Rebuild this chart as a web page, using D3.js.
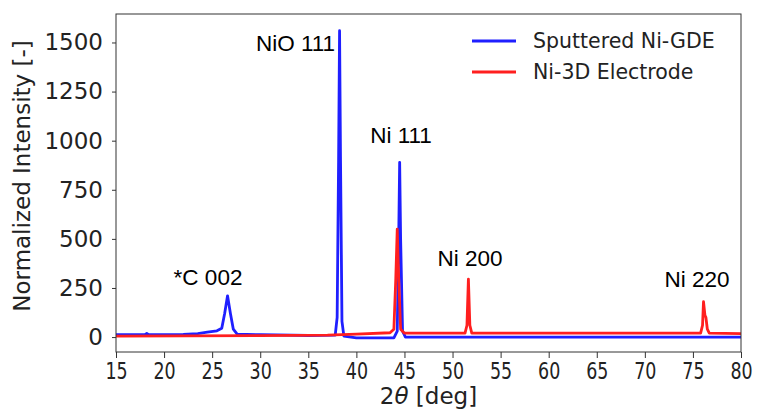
<!DOCTYPE html>
<html lang="en">
<head>
<meta charset="utf-8">
<script src="https://d3js.org/d3.v7.min.js"></script>
<style>
body { margin: 0; background: #fff; }
.tick text { font-family: "DejaVu Sans", sans-serif; fill: #222; }
.peak { font-family: "Liberation Sans", Arial, sans-serif; font-size: 22.5px; fill: #000; }
.lab { font-family: "DejaVu Sans", sans-serif; font-size: 23px; fill: #222; }
.leg { font-family: "DejaVu Sans", sans-serif; font-size: 20.5px; fill: #222; }
</style>
</head>
<body>
<script>
// hand-read points, [2theta, intensity]
var gdeX = [15, 18.0, 18.2, 18.4, 22, 23.5, 24.5, 25.5, 26.0, 26.3, 26.6, 26.9, 27.2, 27.6, 30, 35, 37.8, 38.0, 38.15, 38.25, 38.35, 38.5, 38.7, 40, 43.9, 44.25, 44.4, 44.5, 44.6, 44.8, 45.1, 50, 80];
var gdeY = [12, 12, 18, 12, 13, 18, 25, 32, 45, 120, 210, 120, 40, 15, 12, 8, 10, 100, 900, 1560, 900, 80, 5, -4, -4, 30, 500, 890, 500, 30, 0, 0, 0];

var ni3dX = [15, 30, 37, 40, 43.5, 43.9, 44.1, 44.25, 44.4, 44.6, 45, 51.3, 51.5, 51.65, 51.8, 52.0, 75.8, 76.0, 76.1, 76.25, 76.35, 76.5, 76.7, 80];
var ni3dY = [5, 7, 10, 15, 22, 40, 300, 550, 300, 40, 20, 20, 60, 295, 60, 20, 20, 60, 180, 110, 100, 40, 20, 18];

var xTicks = [15, 20, 25, 30, 35, 40, 45, 50, 55, 60, 65, 70, 75, 80];
var yTicks = [0, 250, 500, 750, 1000, 1250, 1500];

var peakNames = ["NiO 111", "Ni 111", "*C 002", "Ni 200", "Ni 220"];
var peakAtX = [33.67, 44.64, 24.57, 51.82, 75.43];
var peakAtY = [1456, 988, 265, 362, 255];

var seriesNames = ["Sputtered Ni-GDE", "Ni-3D Electrode"];
var seriesColors = ["#1f1fff", "#ff1f1f"];

var width = 757, height = 417;
var margin = {left: 116, right: 16, top: 14, bottom: 65};

var svg = d3.select("body").append("svg")
  .attr("width", width).attr("height", height);

var x = d3.scaleLinear().domain([15, 80]).range([margin.left, width - margin.right]);
var y = d3.scaleLinear().domain([-76, 1645]).range([height - margin.bottom, margin.top]);

var line = d3.line().x(function(d) { return x(d[0]); }).y(function(d) { return y(d[1]); });

var series = [d3.zip(gdeX, gdeY), d3.zip(ni3dX, ni3dY)];

svg.append("defs").append("clipPath").attr("id", "clip")
  .append("rect").attr("x", margin.left).attr("y", margin.top)
  .attr("width", width - margin.left - margin.right)
  .attr("height", height - margin.top - margin.bottom);

var g = svg.append("g").attr("clip-path", "url(#clip)");
series.forEach(function(s, i) {
  g.append("path").datum(s)
    .attr("d", line)
    .attr("fill", "none")
    .attr("stroke", seriesColors[i])
    .attr("stroke-width", 2.8)
    .attr("stroke-linejoin", "round");
});

// frame
svg.append("rect")
  .attr("x", margin.left).attr("y", margin.top)
  .attr("width", width - margin.left - margin.right)
  .attr("height", height - margin.top - margin.bottom)
  .attr("fill", "none").attr("stroke", "#333").attr("stroke-width", 1);

var xAxis = svg.append("g")
  .attr("transform", "translate(0," + (height - margin.bottom) + ")")
  .call(d3.axisBottom(x).tickValues(xTicks).tickFormat(d3.format("d")).tickSize(6).tickPadding(5));
var yAxis = svg.append("g")
  .attr("transform", "translate(" + margin.left + ",0)")
  .call(d3.axisLeft(y).tickValues(yTicks).tickFormat(d3.format("d")).tickSize(4).tickPadding(9));
[xAxis, yAxis].forEach(function(a) {
  a.select(".domain").remove();
  a.selectAll(".tick line").attr("stroke", "#333");
  a.selectAll(".tick text").attr("fill", "#222").style("font-size", "23px");
});
// x tick labels look squeezed sideways in the original
xAxis.selectAll(".tick text").attr("transform", "scale(0.76,1)");

// peak labels
svg.selectAll(".peak").data(peakNames).enter().append("text")
  .attr("class", "peak")
  .attr("x", function(d, i) { return x(peakAtX[i]); })
  .attr("y", function(d, i) { return y(peakAtY[i]); })
  .attr("text-anchor", "middle")
  .text(function(d) { return d; });

// axis labels
svg.append("text").attr("class", "lab")
  .attr("transform", "translate(30,176) rotate(-90)")
  .attr("text-anchor", "middle")
  .text("Normalized Intensity [-]");

var xl = svg.append("text").attr("class", "lab")
  .attr("x", (margin.left + width - margin.right) / 2).attr("y", 404)
  .attr("text-anchor", "middle");
xl.append("tspan").text("2");
xl.append("tspan").style("font-style", "italic").text("θ");
xl.append("tspan").text(" [deg]");

// legend
var leg = svg.selectAll(".legitem").data(seriesNames).enter().append("g")
  .attr("transform", function(d, i) { return "translate(472," + (41 + i * 31) + ")"; });
leg.append("line").attr("x1", 0).attr("x2", 44)
  .attr("stroke", function(d, i) { return seriesColors[i]; })
  .attr("stroke-width", 2.8);
leg.append("text").attr("class", "leg").attr("x", 61).attr("dy", "0.35em")
  .text(function(d) { return d; });
</script>
</body>
</html>
